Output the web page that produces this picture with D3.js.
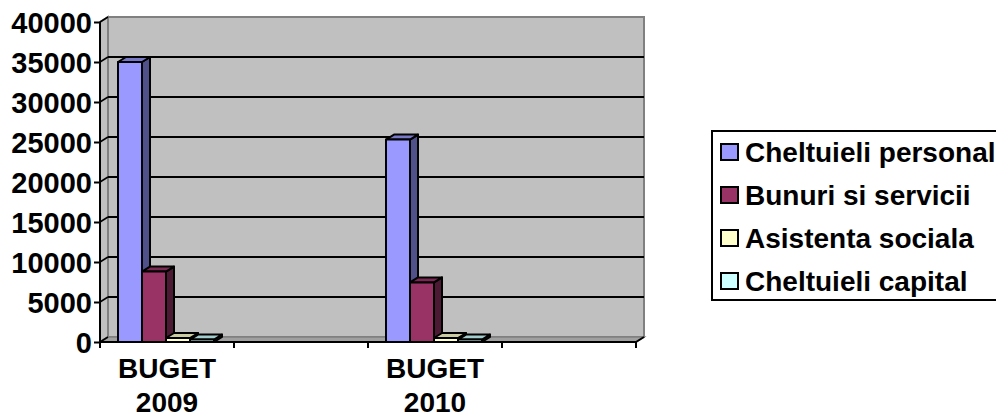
<!DOCTYPE html>
<html><head><meta charset="utf-8">
<script src="https://cdn.jsdelivr.net/npm/d3@7/dist/d3.min.js"></script>
<style>body{margin:0;background:#fff}svg{display:block}</style>
</head><body><svg id="c" width="996" height="417"></svg>
<script>
const categories = ["BUGET 2009", "", "BUGET 2010", ""];
const seriesNames = ["Cheltuieli personal", "Bunuri si servicii", "Asistenta sociala", "Cheltuieli capital"];
const personal = [35000, null, 25300, null];
const bunuri = [8800, null, 7450, null];
const asistenta = [500, null, 500, null];
const capital = [300, null, 300, null];
const yTicks = [0, 5000, 10000, 15000, 20000, 25000, 30000, 35000, 40000];

const seriesValues = [personal, bunuri, asistenta, capital];
const colors = [
  {front:"#9999ff", top:"#7878c8", side:"#50508a"},
  {front:"#993366", top:"#7a2952", side:"#4d1a33"},
  {front:"#ffffcc", top:"#cccca3", side:"#9a9a7a"},
  {front:"#ccffff", top:"#a3cccc", side:"#7a9a9a"}
];
const FONT = "Liberation Sans, Arial, sans-serif";

const svg = d3.select("#c");
const pLeft = 100, pRight = 636, pBottom = 342, pTop = 22;
const dx = 8, dy = -5;
const y = d3.scaleLinear().domain([0, 40000]).range([pBottom, pTop]);
const x = d3.scaleBand().domain(d3.range(categories.length)).range([pLeft, pRight]).paddingInner(0).paddingOuter(0);
const inner = d3.scaleBand().domain(d3.range(seriesNames.length)).range([18, 18 + 96]);

// back wall
svg.append("rect").attr("x", pLeft + dx).attr("y", pTop + dy).attr("width", pRight - pLeft).attr("height", pBottom - pTop)
  .attr("fill", "#c0c0c0").attr("stroke", "#808080").attr("stroke-width", 2);
// left side wall
svg.append("polygon").attr("points", [[pLeft, pTop], [pLeft + dx, pTop + dy], [pLeft + dx, pBottom + dy], [pLeft, pBottom]].join(" "))
  .attr("fill", "#c0c0c0").attr("stroke", "#808080").attr("stroke-width", 2);
// floor
svg.append("polygon").attr("points", [[pLeft, pBottom], [pLeft + dx, pBottom + dy], [pRight + dx, pBottom + dy], [pRight, pBottom]].join(" "))
  .attr("fill", "#a0a0a0").attr("stroke", "#808080").attr("stroke-width", 1.5);

// gridlines
const grid = yTicks.filter(t => t > 0 && t < 40000);
svg.selectAll(".g").data(grid).enter().append("line")
  .attr("x1", pLeft + dx).attr("x2", pRight + dx)
  .attr("y1", d => y(d) + dy).attr("y2", d => y(d) + dy)
  .attr("stroke", "#000").attr("stroke-width", 2);
svg.selectAll(".gs").data(yTicks).enter().append("line")
  .attr("x1", pLeft).attr("x2", pLeft + dx)
  .attr("y1", d => y(d)).attr("y2", d => y(d) + dy)
  .attr("stroke", "#000").attr("stroke-width", 1.5);

// bars
seriesValues.forEach((vals, si) => {
  vals.forEach((v, ci) => {
    if (v == null) return;
    const bx = x(ci) + inner(si), bw = inner.bandwidth();
    const by = y(v), c = colors[si];
    const g = svg.append("g").attr("stroke", "#000").attr("stroke-width", 2).attr("stroke-linejoin", "round");
    g.append("polygon").attr("points", [[bx + bw, by], [bx + bw + dx, by + dy], [bx + bw + dx, pBottom + dy], [bx + bw, pBottom]].join(" ")).attr("fill", c.side);
    g.append("polygon").attr("points", [[bx, by], [bx + dx, by + dy], [bx + bw + dx, by + dy], [bx + bw, by]].join(" ")).attr("fill", c.top);
    g.append("rect").attr("x", bx).attr("y", by).attr("width", bw).attr("height", pBottom - by).attr("fill", c.front);
  });
});

// axes
const yAxis = d3.axisLeft(y).tickValues(yTicks).tickSize(6).tickPadding(2).tickFormat(d3.format("d"));
const ya = svg.append("g").attr("transform", `translate(${pLeft},0)`).call(yAxis);
ya.select(".domain").attr("stroke-width", 2).attr("d", `M0,${pTop}V${pBottom}`);
ya.selectAll(".tick line").attr("stroke-width", 2);
ya.selectAll("text").attr("font-family", FONT).attr("font-weight", "bold").attr("font-size", 29).attr("fill", "#000").attr("dy", "0.36em");

const xa = svg.append("g");
xa.append("line").attr("x1", pLeft).attr("x2", pRight).attr("y1", pBottom).attr("y2", pBottom).attr("stroke", "#000").attr("stroke-width", 2);
xa.append("line").attr("x1", pRight).attr("x2", pRight + dx).attr("y1", pBottom).attr("y2", pBottom + dy).attr("stroke", "#000").attr("stroke-width", 2);
const bounds = d3.range(categories.length + 1).map(i => i < categories.length ? x(i) : pRight);
xa.selectAll(".xt").data(bounds).enter().append("line")
  .attr("x1", d => d).attr("x2", d => d).attr("y1", pBottom).attr("y2", pBottom + 6).attr("stroke", "#000").attr("stroke-width", 2);
const lbl = xa.selectAll(".xl").data(categories).enter().append("text")
  .attr("x", (d, i) => x(i) + x.bandwidth() / 2).attr("y", 378)
  .attr("text-anchor", "middle").attr("font-family", FONT).attr("font-weight", "bold").attr("font-size", 28);
lbl.each(function(d) {
  const parts = d.split(" ");
  const t = d3.select(this);
  parts.forEach((p, k) => t.append("tspan").attr("x", t.attr("x")).attr("dy", k === 0 ? 0 : 34).text(p));
});

// legend
const lg = svg.append("g");
lg.append("rect").attr("x", 712).attr("y", 131).attr("width", 300).attr("height", 169).attr("fill", "#fff").attr("stroke", "#000").attr("stroke-width", 2);
const rows = lg.selectAll(".lr").data(seriesNames).enter().append("g")
  .attr("transform", (d, i) => `translate(721,${152 + i * 43})`);
rows.append("rect").attr("x", 0).attr("y", -8).attr("width", 17).attr("height", 16)
  .attr("fill", (d, i) => colors[i].front).attr("stroke", "#000").attr("stroke-width", 2);
rows.append("text").attr("x", 24).attr("y", 10).text(d => d)
  .attr("font-family", FONT).attr("font-weight", "bold").attr("font-size", 28);
</script></body></html>
